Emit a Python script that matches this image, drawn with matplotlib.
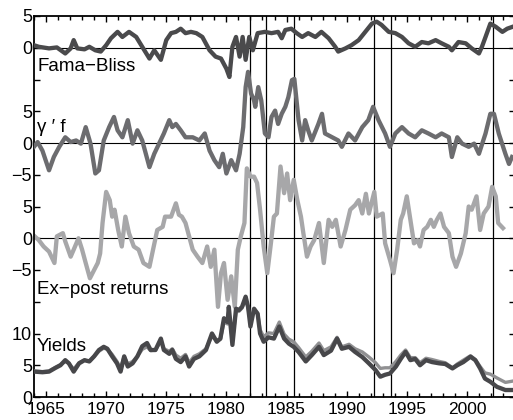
import matplotlib
matplotlib.use("Agg")
import matplotlib.pyplot as plt
import numpy as np

# ---------------- data ----------------
fb_years = [1964.0, 1964.4, 1965.25, 1965.9, 1966.6, 1967.05, 1967.3, 1967.6, 1968.2, 1968.6,
            1969.1, 1969.55, 1970.0, 1970.4, 1970.95, 1971.35, 1971.9, 1972.5, 1973.0, 1973.6,
            1974.0, 1974.55, 1975.0, 1975.4, 1975.8, 1976.2, 1976.6, 1977.05, 1977.5, 1978.0,
            1978.6, 1979.1, 1979.55, 1980.0, 1980.25, 1980.5, 1980.8, 1981.1, 1981.35, 1981.6,
            1981.9, 1982.2, 1982.6, 1983.2, 1983.75, 1984.3, 1984.6, 1984.9, 1985.4, 1985.85,
            1986.3, 1986.8, 1987.4, 1987.9, 1988.5, 1989.05, 1989.3, 1989.9, 1990.4, 1991.0,
            1991.55, 1992.1, 1992.5, 1992.9, 1993.5, 1994.05, 1994.6, 1995.15, 1995.7, 1996.25,
            1996.8, 1997.4, 1997.9, 1998.5, 1998.75, 1999.3, 1999.9, 2000.4, 2001.0, 2001.25,
            2001.55, 2001.95, 2002.4, 2002.95, 2003.35, 2003.8]
fama_bliss = [0.4, 0.15, -0.1, 0.05, -0.9, -0.1, 1.2, -0.1, -0.25, 0.15,
              -0.4, -0.6, 0.4, 1.5, 2.5, 1.7, 2.5, 1.7, 0.15, -1.7,
              -0.4, -1.9, 1.2, 2.3, 2.5, 3.0, 2.3, 2.5, 2.3, 1.7,
              -0.4, -1.4, -1.7, -3.3, -4.6, 0.15, 1.7, -1.4, 1.7, -1.9,
              1.7, -0.4, 2.3, 2.5, 2.3, 2.5, 1.5, 2.8, 3.0, 2.3,
              1.7, 2.3, 1.7, 2.5, 1.5, 0.15, -0.6, -0.1, 0.4, 1.2,
              2.5, 3.8, 4.1, 3.6, 2.5, 2.3, 1.7, 0.7, 0.15, 0.9,
              0.7, 1.2, 0.7, 0.15, -0.4, 0.9, 0.7, -0.1, -0.9, 0.15,
              1.7, 3.8, 3.3, 2.5, 3.0, 3.3]

gf_years = [1964.0, 1964.3, 1964.7, 1965.25, 1965.65, 1966.1, 1966.6, 1967.05, 1967.5, 1967.9,
            1968.3, 1968.7, 1969.1, 1969.4, 1969.8, 1970.25, 1970.65, 1970.95, 1971.35, 1971.8,
            1972.2, 1972.6, 1973.0, 1973.6, 1974.0, 1974.4, 1974.8, 1975.25, 1975.5, 1975.8,
            1976.2, 1976.6, 1977.2, 1977.75, 1978.2, 1978.6, 1979.0, 1979.4, 1979.7, 1980.0,
            1980.4, 1980.8, 1981.1, 1981.4, 1981.6, 1981.8, 1982.05, 1982.3, 1982.4, 1982.65,
            1982.9, 1983.2, 1983.5, 1983.75, 1984.05, 1984.3, 1984.6, 1984.9, 1985.15, 1985.45,
            1985.65, 1986.0, 1986.3, 1986.55, 1986.8, 1987.1, 1987.65, 1987.95, 1988.2, 1988.8,
            1989.3, 1989.6, 1990.15, 1990.7, 1991.3, 1991.8, 1992.2, 1992.65, 1993.2, 1993.6,
            1994.05, 1994.6, 1995.15, 1995.7, 1996.25, 1996.8, 1997.4, 1997.9, 1998.5, 1998.75,
            1999.2, 1999.6, 2000.15, 2000.6, 2001.0, 2001.55, 2001.95, 2002.25, 2002.65, 2003.2,
            2003.5, 2003.75]
gamma_f = [-0.6, 0.15, -1.2, -4.3, -2.2, -0.6, 0.9, 0.15, 0.4, -0.1,
           2.5, -0.1, -4.8, -4.3, 0.4, 2.5, 4.1, 2.0, 0.9, 3.6,
           -0.1, 2.0, 0.4, -3.8, -1.7, -0.1, 1.5, 3.6, 2.5, 3.0,
           2.0, 0.9, 0.9, 0.4, 1.5, -1.2, -2.7, -3.8, -1.7, -4.8,
           -2.7, -4.3, -1.7, 2.5, 8.8, 11.2, 7.8, 6.7, 5.7, 8.8,
           6.7, 1.5, 0.9, 4.1, 5.1, 3.0, 4.6, 5.7, 7.2, 9.9,
           10.1, 3.6, 0.4, 3.6, 2.0, 0.4, 3.0, 4.6, 1.5, 0.9,
           0.4, -0.6, 1.5, 0.4, 2.5, 3.6, 5.7, 3.6, 1.5, -0.6,
           1.5, 2.5, 1.5, 0.9, 2.0, 1.5, 0.9, 1.5, 0.9, -2.2,
           0.9, -0.1, -0.6, -0.1, -1.7, 1.5, 4.6, 4.6, 1.5, -1.7,
           -3.3, -2.2]

xp_years = [1964.0, 1964.4, 1964.8, 1965.25, 1965.7, 1965.9, 1966.4, 1966.6, 1967.05, 1967.3,
            1967.7, 1968.0, 1968.3, 1968.65, 1969.0, 1969.3, 1969.5, 1969.7, 1970.0, 1970.3,
            1970.5, 1970.7, 1971.0, 1971.3, 1971.6, 1971.9, 1972.3, 1972.7, 1973.1, 1973.6,
            1973.9, 1974.25, 1974.7, 1974.9, 1975.4, 1975.8, 1976.05, 1976.3, 1976.6, 1976.9,
            1977.2, 1977.6, 1978.0, 1978.4, 1978.7, 1979.0, 1979.3, 1979.55, 1979.8, 1980.1,
            1980.4, 1980.7, 1980.95, 1981.2, 1981.5, 1981.7, 1982.0, 1982.3, 1982.55, 1982.8,
            1983.1, 1983.4, 1983.7, 1983.95, 1984.2, 1984.5, 1984.8, 1985.05, 1985.3, 1985.6,
            1985.9, 1986.2, 1986.4, 1986.7, 1987.0, 1987.3, 1987.7, 1988.1, 1988.5, 1988.8,
            1989.1, 1989.5, 1989.9, 1990.3, 1990.7, 1991.0, 1991.3, 1991.6, 1991.85, 1992.3,
            1992.5, 1993.0, 1993.2, 1993.6, 1993.9, 1994.2, 1994.5, 1994.7, 1995.0, 1995.3,
            1995.6, 1995.9, 1996.1, 1996.4, 1996.7, 1997.0, 1997.25, 1997.5, 1997.8, 1998.1,
            1998.5, 1998.8, 1999.1, 1999.5, 1999.9, 2000.15, 2000.4, 2000.8, 2001.1, 2001.4,
            2001.8, 2002.1, 2002.4, 2002.6, 2003.0]
ex_post = [0.4, -0.3, -1.3, -2.1, -3.9, 0.3, 0.8, -0.5, -2.9, -1.8,
           0.0, -1.8, -3.9, -6.3, -5.0, -3.9, -2.4, 2.4, 7.3, 6.0,
           3.4, 4.5, 1.3, -1.3, 3.4, 0.8, -1.3, -1.8, -3.9, -4.5,
           -1.8, 1.3, 1.8, 3.4, 3.4, 5.5, 3.7, 3.4, 2.4, 0.3,
           -1.8, -2.9, -3.9, -1.3, -4.5, -1.8, -10.8, -5.5, -3.9, -9.7,
           -6.0, -10.8, -1.8, 0.3, 2.4, 11.0, 9.7, 9.7, 8.7, 4.5,
           -1.3, -5.5, -0.8, 3.4, 3.9, 11.3, 7.1, 10.2, 6.0, 9.2,
           6.0, 3.4, 0.8, -2.9, -1.3, -0.3, 2.4, -3.9, 2.9, 1.8,
           2.9, -1.3, 1.3, 4.5, 5.2, 6.0, 3.9, 7.0, 3.9, 7.3,
           3.4, 3.9, -0.8, -3.4, -5.5, -1.8, 2.9, 3.9, 6.6, 2.9,
           -0.8, -0.3, -1.3, 1.3, 1.8, 2.9, 1.8, 2.9, 3.9, 1.8,
           0.8, -2.9, -4.5, -2.4, 0.8, 5.0, 4.5, 6.6, 1.3, 3.9,
           5.0, 8.1, 6.6, 2.4, 1.6]

yld_years = [1964.0, 1964.7, 1965.25, 1965.8, 1966.2, 1966.6, 1966.9, 1967.3, 1967.75, 1968.2,
             1968.6, 1969.0, 1969.4, 1969.8, 1970.1, 1970.5, 1970.9, 1971.2, 1971.5, 1971.8,
             1972.2, 1972.6, 1973.0, 1973.4, 1973.7, 1974.1, 1974.55, 1974.8, 1975.25, 1975.5,
             1975.8, 1976.2, 1976.6, 1976.9, 1977.3, 1977.75, 1978.3, 1978.8, 1979.2, 1979.5,
             1979.8, 1980.1, 1980.2, 1980.5, 1980.8, 1981.05, 1981.3, 1981.6, 1981.8, 1982.0,
             1982.3, 1982.6, 1982.8, 1983.1, 1983.5, 1983.95, 1984.4, 1984.8, 1985.2, 1985.6,
             1986.0, 1986.6, 1987.1, 1987.7, 1988.1, 1988.7, 1989.2, 1989.6, 1990.2, 1990.7,
             1991.3, 1991.85, 1992.4, 1992.8, 1993.2, 1993.6, 1994.1, 1994.5, 1994.9, 1995.3,
             1995.7, 1996.1, 1996.6, 1997.1, 1997.7, 1998.2, 1998.8, 1999.2, 1999.7, 2000.3,
             2000.7, 2001.1, 2001.5, 2001.95, 2002.5, 2003.2, 2003.8]
yield_1y = [4.0, 3.9, 4.0, 4.6, 5.0, 5.8, 5.3, 4.0, 5.3, 5.8,
            5.6, 6.4, 7.4, 7.9, 7.6, 6.4, 5.3, 4.0, 6.4, 4.8,
            5.3, 6.4, 8.0, 8.5, 7.4, 7.4, 9.2, 7.4, 6.8, 7.4,
            6.0, 5.5, 6.4, 4.8, 6.0, 6.4, 7.4, 10.0, 8.7, 9.2,
            12.4, 11.8, 14.2, 8.2, 13.9, 13.7, 14.2, 15.8, 14.2, 11.1,
            13.9, 13.1, 10.0, 8.7, 9.4, 9.2, 11.1, 9.2, 8.4, 7.9,
            7.1, 5.6, 6.6, 7.9, 6.6, 7.3, 9.2, 7.6, 7.9, 7.1,
            6.3, 5.3, 4.25, 3.2, 3.5, 3.7, 4.8, 6.0, 7.1, 5.8,
            6.0, 5.0, 5.8, 5.5, 5.3, 5.2, 4.5, 5.0, 5.5, 6.35,
            5.8, 4.5, 2.9, 2.4, 1.6, 1.1, 1.1]
yield_5y = [4.1, 4.0, 4.1, 4.7, 5.1, 5.6, 5.3, 4.4, 5.4, 5.8,
            5.6, 6.4, 7.2, 7.7, 7.5, 6.7, 5.6, 4.5, 6.4, 5.2,
            5.6, 6.4, 7.5, 7.9, 7.3, 7.4, 8.8, 7.6, 7.2, 7.6,
            6.6, 6.1, 6.7, 5.4, 6.4, 6.8, 7.6, 9.6, 8.8, 9.1,
            11.8, 11.5, 13.5, 8.9, 13.4, 13.5, 14.0, 15.4, 14.1, 11.8,
            13.8, 13.2, 10.6, 9.5, 10.1, 10.0, 11.8, 9.9, 9.1, 8.7,
            7.8, 6.3, 7.2, 8.5, 7.3, 7.9, 9.4, 7.9, 8.3, 7.6,
            7.1, 6.3, 5.4, 4.5, 4.6, 4.6, 5.6, 6.6, 7.4, 6.2,
            6.2, 5.4, 6.1, 5.9, 5.6, 5.4, 4.6, 5.2, 5.8, 6.5,
            5.9, 4.8, 3.8, 3.6, 3.0, 2.3, 2.5]

event_years = [1982.0, 1983.3, 1985.6, 1992.3, 1993.7, 2002.2]

# vertical stacking of the four panels on one axis
offsets = {"fb": 55, "gf": 40, "xp": 25, "yld": 0}
ytick_pos = list(range(0, 61, 5))
ytick_lab = ["0", "5", "10", "", "\u22125", "0", "5", "\u22125", "0", "5", "", "0", "5"]

plt.rcParams["font.family"] = ["Liberation Sans", "DejaVu Sans"]

fig = plt.figure(figsize=(5.13, 4.2), dpi=100)
ax = fig.add_axes([34 / 513, 23 / 420, 481 / 513, 381 / 420])

for yr in event_years:
    ax.axvline(yr, color="black", lw=0.9, zorder=1)
for key in ("fb", "gf", "xp"):
    ax.axhline(offsets[key], color="black", lw=0.8, zorder=1)

lw = 3.1
ax.plot(xp_years, np.array(ex_post) + offsets["xp"], color="#a7a7a9", lw=lw, zorder=2)
ax.plot(yld_years, np.array(yield_5y) + offsets["yld"], color="#909092", lw=2.4, zorder=3)
ax.plot(yld_years, np.array(yield_1y) + offsets["yld"], color="#47474a", lw=lw, zorder=4)
ax.plot(gf_years, np.array(gamma_f) + offsets["gf"], color="#6c6c6f", lw=lw, zorder=3)
ax.plot(fb_years, np.array(fama_bliss) + offsets["fb"], color="#4a4a4c", lw=lw, zorder=3)

lab_kw = dict(fontsize=13.5, ha="left", va="center", zorder=5)
ax.text(1964.25, 52.0, "Fama\u2212Bliss", **lab_kw)
ax.text(1964.25, 42.4, "\u03b3 \u2032 f", **lab_kw)
ax.text(1964.25, 16.9, "Ex\u2212post returns", **lab_kw)
ax.text(1964.25, 7.9, "Yields", **lab_kw)

ax.set_xlim(1964, 2004)
ax.set_ylim(0, 60)
ax.set_xticks(range(1965, 2004, 5))
ax.set_xticks(range(1964, 2005), minor=True)
ax.set_yticks(ytick_pos)
ax.set_yticklabels(ytick_lab)
ax.tick_params(direction="in", top=True, right=True, width=1, length=4)
ax.tick_params(axis="y", pad=1.5, labelsize=13)
ax.tick_params(axis="x", pad=3.5, labelsize=12.5)
ax.tick_params(which="minor", direction="in", top=True, length=3, width=1)
for s in ax.spines.values():
    s.set_linewidth(1.3)

fig.savefig("out.png", dpi=100)
